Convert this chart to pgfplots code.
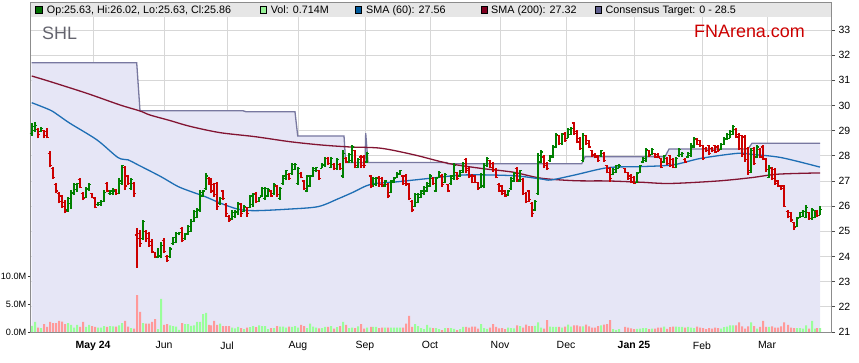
\documentclass[border=0pt]{standalone}
\usepackage{fontspec}
\setmainfont{Liberation Sans}
\usepackage{pgfplots}
\usepackage{pgfplotstable}
\pgfplotsset{compat=1.18}
\definecolor{upc}{RGB}{0,128,0}
\definecolor{dnc}{RGB}{204,0,0}
\definecolor{vup}{RGB}{153,255,153}
\definecolor{vdn}{RGB}{255,153,153}
\definecolor{smasixty}{RGB}{30,110,180}
\definecolor{smatwo}{RGB}{130,20,50}
\definecolor{tgt}{RGB}{120,120,160}
\definecolor{tgtfill}{RGB}{230,230,246}
\definecolor{bandc}{RGB}{230,230,230}
\definecolor{gridc}{RGB}{215,215,215}
\definecolor{framec}{RGB}{140,140,140}
\definecolor{fnred}{RGB}{204,0,0}
\definecolor{shlc}{RGB}{100,100,110}
\definecolor{sqA}{RGB}{0,110,0}
\definecolor{sqB}{RGB}{150,240,150}
\definecolor{sqC}{RGB}{0,90,156}
\definecolor{sqD}{RGB}{128,0,32}
\definecolor{sqE}{RGB}{95,95,143}

\pgfdeclareplotmark{otick}{\pgfpathmoveto{\pgfqpoint{-2.4bp}{0pt}}\pgfpathlineto{\pgfqpoint{0pt}{0pt}}\pgfusepathqstroke}
\pgfdeclareplotmark{ctick}{\pgfpathmoveto{\pgfqpoint{0pt}{0pt}}\pgfpathlineto{\pgfqpoint{2.4bp}{0pt}}\pgfusepathqstroke}

\pgfplotstableread{
x o h l c v
32 28.90 29.29 28.80 29.15 1.1
35 29.00 29.33 28.96 29.20 1.8
38 29.05 29.09 28.69 28.85 0.8
41 28.98 29.16 28.96 29.10 0.7
44 29.00 29.02 28.69 28.80 1.4
47 28.95 29.09 28.69 28.72 0.9
50 28.10 28.19 27.54 27.60 1.8
53 27.50 27.57 27.08 27.15 1.6
56 26.85 26.90 26.51 26.60 1.6
59 26.50 26.57 26.11 26.20 2.0
62 26.40 26.44 25.94 26.00 1.85
65 26.15 26.24 25.71 25.80 1.4
68 25.85 26.37 25.78 26.30 1.6
71 26.10 26.64 25.88 26.55 1.25
74 26.50 26.90 26.44 26.85 0.8
77 26.65 26.93 26.57 26.90 1.25
80 27.05 27.13 26.71 26.75 0.9
83 26.50 26.57 26.24 26.30 1.8
86 26.35 26.77 26.31 26.70 0.9
89 26.65 26.90 26.61 26.85 1.25
92 26.50 26.51 26.31 26.35 1.07
95 26.30 26.37 25.91 25.95 0.9
98 26.05 26.18 26.02 26.15 0.8
101 26.05 26.24 26.02 26.20 0.8
104 26.20 26.64 26.18 26.55 1.07
107 26.90 26.97 26.55 26.60 0.9
110 26.50 26.64 26.44 26.60 1.07
113 26.50 26.71 26.44 26.60 1.0
116 26.65 26.68 26.44 26.50 0.95
119 26.50 27.13 26.47 27.00 1.2
122 26.90 27.63 26.84 27.60 1.6
125 27.55 27.60 26.64 26.80 2.0
128 27.20 27.24 26.84 26.90 0.95
131 26.70 27.13 26.64 27.05 0.7
134 26.90 26.97 26.37 26.50 0.6
137 24.85 25.14 23.55 24.72 6.6
140 24.90 25.05 24.39 24.50 3.6
143 24.70 25.45 24.65 25.40 1.6
146 25.00 25.05 24.59 24.70 1.5
149 24.90 24.98 24.39 24.45 1.5
152 24.60 24.69 24.12 24.20 1.8
155 24.15 24.19 23.95 24.00 2.3
158 23.98 24.35 23.92 24.02 0.5
161 24.00 24.56 23.92 24.45 5.9
164 24.65 24.72 24.12 24.20 1.25
167 24.00 24.06 23.79 23.85 1.4
170 24.00 24.39 23.95 24.30 1.2
173 24.50 24.79 24.45 24.75 1.07
176 24.55 24.96 24.52 24.90 0.95
179 24.90 24.98 24.85 24.95 0.4
182 25.10 25.18 24.56 24.65 1.6
185 24.70 24.92 24.65 24.88 1.4
188 24.90 25.25 24.85 25.20 1.4
191 25.00 25.47 24.98 25.40 1.1
194 25.40 25.85 25.38 25.80 1.2
197 25.55 25.91 25.51 25.85 1.8
200 25.85 26.64 25.78 26.55 1.8
203 26.40 26.64 26.37 26.60 3.2
206 26.70 27.30 26.64 27.20 3.4
209 27.10 27.17 26.84 26.95 1.25
211 27.05 27.10 26.51 26.60 1.2
214 26.85 26.90 26.37 26.45 2.0
217 26.90 26.97 25.85 26.00 1.25
220 26.10 26.37 26.04 26.30 1.5
223 26.60 26.64 26.24 26.30 1.07
226 26.05 26.11 25.58 25.70 1.07
229 25.60 25.65 25.38 25.45 1.07
232 25.50 25.85 25.45 25.75 0.8
235 25.60 25.85 25.51 25.80 0.65
238 25.75 26.15 25.65 26.10 0.9
241 26.05 26.11 25.58 25.70 0.7
244 25.80 26.04 25.78 26.00 0.5
247 25.95 25.98 25.58 25.70 0.8
250 25.95 26.44 25.91 26.40 0.85
253 26.05 26.51 25.98 26.45 1.07
256 26.50 26.57 26.11 26.20 0.85
259 26.20 26.37 26.18 26.35 1.2
262 26.40 26.77 26.37 26.70 1.07
265 26.30 26.77 26.24 26.70 1.07
268 26.40 26.71 26.37 26.65 0.5
271 26.60 26.64 26.37 26.40 0.7
274 26.50 26.90 26.44 26.85 0.7
277 26.80 26.84 26.37 26.45 1.07
280 26.30 26.77 26.24 26.70 0.95
283 26.90 27.24 26.84 27.20 0.95
286 27.10 27.43 27.04 27.40 0.8
289 27.25 27.30 27.04 27.10 0.95
292 27.30 27.70 27.24 27.65 0.93
295 27.45 27.70 27.43 27.65 1.07
298 26.90 27.57 26.84 27.50 0.8
301 27.30 27.34 27.10 27.15 1.25
304 27.00 27.04 26.64 26.70 1.07
307 26.60 27.24 26.55 27.20 0.7
310 26.80 27.24 26.77 27.20 1.5
313 27.20 27.57 27.17 27.50 0.95
316 27.40 27.57 27.37 27.55 0.8
319 27.40 27.43 27.04 27.10 0.65
322 27.50 27.70 27.50 27.65 0.7
325 27.60 27.96 27.57 27.90 0.93
328 27.90 27.96 27.63 27.70 0.9
331 27.55 27.96 27.50 27.90 1.07
334 27.65 27.70 27.43 27.50 0.6
337 27.50 27.90 27.43 27.85 0.85
340 27.65 27.70 27.43 27.50 1.07
343 27.20 28.23 27.10 28.10 1.8
346 27.90 27.96 27.70 27.75 1.25
349 27.75 28.10 27.70 28.05 0.7
352 27.80 28.43 27.70 28.35 0.8
355 28.20 28.23 27.50 27.60 0.7
358 27.55 27.90 27.50 27.85 1.0
361 27.95 28.03 27.50 27.60 1.4
364 27.95 28.03 27.50 27.60 0.6
367 27.75 28.16 27.70 28.10 0.8
371 27.20 27.24 26.71 26.80 0.9
373 26.80 27.17 26.77 27.10 0.9
376 26.85 27.17 26.81 27.10 0.9
379 27.15 27.21 26.77 26.85 0.7
382 27.10 27.17 26.77 26.85 0.8
385 26.80 27.04 26.77 27.00 0.8
388 26.85 26.90 26.31 26.40 0.8
391 26.55 27.04 26.51 27.00 0.8
394 26.95 27.17 26.90 27.10 0.8
397 27.15 27.37 27.10 27.30 0.8
400 27.25 27.43 27.24 27.40 0.8
403 27.20 27.24 26.84 26.90 0.8
406 27.20 27.27 26.81 26.90 1.5
409 26.85 26.90 26.24 26.30 2.9
412 26.20 26.24 25.75 25.85 0.9
415 26.00 26.51 25.98 26.45 1.4
418 26.15 26.51 26.11 26.45 1.07
421 26.35 26.64 26.31 26.60 0.7
424 26.50 26.81 26.44 26.75 0.5
427 26.60 26.97 26.57 26.90 1.25
430 26.80 27.27 26.77 27.20 0.8
433 27.10 27.17 26.84 26.90 0.7
436 26.60 27.17 26.57 27.10 0.7
439 27.15 27.40 27.10 27.35 0.5
442 27.20 27.27 26.77 26.85 0.35
445 26.95 27.30 26.90 27.25 0.7
448 26.85 26.87 26.55 26.60 0.7
451 26.90 27.24 26.84 27.20 0.7
454 27.10 27.70 27.04 27.60 0.55
457 27.35 27.37 27.04 27.10 0.35
460 27.20 27.43 27.17 27.40 0.5
463 27.35 27.77 27.30 27.70 0.9
466 27.85 27.90 27.30 27.40 0.9
469 27.50 27.57 27.10 27.20 0.8
472 27.20 27.27 26.90 26.95 0.95
475 27.20 27.24 26.90 26.95 0.95
478 26.95 26.97 26.64 26.70 0.6
481 26.75 27.30 26.71 27.25 1.4
484 26.80 27.70 26.71 27.60 0.7
487 27.60 27.96 27.57 27.90 0.55
490 27.80 27.83 27.50 27.55 0.8
493 27.70 27.77 27.37 27.45 1.4
496 27.45 27.50 27.10 27.15 0.9
499 26.85 26.90 26.57 26.60 0.65
502 26.80 26.84 26.44 26.50 0.7
505 26.60 26.64 26.37 26.40 0.5
508 26.45 26.64 26.41 26.60 0.8
511 26.70 27.17 26.64 27.10 0.7
514 27.00 27.37 26.97 27.30 0.65
517 27.50 27.57 26.97 27.05 1.2
520 27.00 27.43 26.97 27.40 1.07
523 27.05 27.10 26.44 26.50 0.8
526 26.50 26.57 26.11 26.20 1.3
529 26.60 26.64 26.18 26.25 1.07
532 26.10 26.18 25.58 25.70 1.07
535 25.85 26.24 25.81 26.20 1.1
538 26.50 28.10 26.44 28.00 1.7
541 27.75 28.23 27.70 28.15 0.8
544 27.95 28.03 27.50 27.60 0.6
547 27.70 27.77 27.43 27.50 2.1
550 27.80 28.03 27.77 28.00 0.95
553 27.95 28.43 27.90 28.35 0.9
556 28.35 28.89 28.30 28.85 0.9
559 28.80 28.83 28.43 28.50 0.9
562 28.50 28.89 28.43 28.85 0.8
565 28.90 28.96 28.56 28.60 0.95
568 28.70 29.09 28.69 29.05 1.3
571 28.85 29.16 28.83 29.10 0.95
574 29.30 29.36 28.83 28.90 1.2
577 28.95 29.02 28.49 28.55 1.2
580 28.70 28.76 28.23 28.30 1.0
583 27.80 28.89 27.77 28.80 1.0
586 28.80 28.83 28.43 28.50 1.3
589 28.60 28.63 28.30 28.35 1.0
592 28.20 28.23 27.96 28.00 0.8
595 28.05 28.10 27.90 27.95 0.8
598 28.00 28.03 27.77 27.80 1.07
601 28.00 28.23 27.96 28.20 1.2
604 28.10 28.16 27.77 27.80 1.3
607 27.60 27.63 27.30 27.35 1.4
610 27.50 27.57 26.97 27.10 2.1
613 27.25 27.50 27.24 27.45 0.5
616 27.35 27.63 27.30 27.60 0.35
619 27.50 27.66 27.50 27.60 0.5
625 27.50 27.53 27.30 27.35 0.9
628 27.35 27.37 27.04 27.10 0.8
631 27.20 27.27 26.90 26.95 0.65
634 27.15 27.21 26.87 26.90 0.5
637 26.95 27.37 26.90 27.30 0.55
640 27.35 27.63 27.30 27.60 0.6
643 27.75 27.96 27.70 27.90 0.7
646 27.80 28.30 27.77 28.25 0.7
649 28.20 28.23 27.96 28.00 0.5
652 28.05 28.30 28.03 28.25 0.6
655 28.10 28.13 27.92 27.95 0.6
658 28.05 28.10 27.90 27.95 0.8
661 27.90 27.92 27.50 27.55 0.8
664 27.75 28.03 27.70 28.00 0.95
667 27.90 27.96 27.63 27.70 0.55
670 28.00 28.03 27.57 27.60 0.85
673 27.85 27.90 27.50 27.55 0.95
676 27.55 27.96 27.50 27.90 0.95
679 28.00 28.30 27.96 28.25 0.9
682 28.05 28.16 27.96 28.10 0.9
685 27.85 27.90 27.70 27.75 0.8
688 27.95 28.16 27.90 28.10 0.9
691 28.00 28.49 27.96 28.40 0.8
694 28.35 28.76 28.30 28.70 0.7
697 28.65 28.69 28.43 28.45 0.95
700 28.60 28.63 28.36 28.40 0.8
703 28.40 28.43 27.83 27.90 0.7
706 28.30 28.36 28.16 28.20 0.5
709 28.40 28.43 28.03 28.10 0.7
712 28.30 28.36 28.16 28.20 0.6
715 28.40 28.43 28.10 28.15 0.8
718 28.35 28.43 28.16 28.20 0.7
721 28.25 28.49 28.23 28.45 0.6
724 28.45 28.76 28.43 28.70 0.85
727 28.65 28.89 28.63 28.85 0.95
730 28.70 29.02 28.69 28.95 1.2
733 28.85 29.22 28.83 29.15 1.2
736 29.05 29.09 28.69 28.75 1.2
739 28.85 28.89 28.23 28.30 1.7
742 28.80 28.83 27.96 28.05 1.0
745 28.75 28.83 27.77 27.85 0.6
748 28.30 28.36 27.24 27.35 1.0
751 27.40 28.30 27.30 28.20 1.7
754 28.30 28.36 27.63 27.70 1.07
757 27.95 28.43 27.90 28.35 0.6
760 28.25 28.30 27.90 27.95 0.9
763 28.35 28.43 27.83 27.90 2.0
766 27.85 27.90 27.37 27.45 0.9
769 27.15 27.63 27.10 27.55 0.9
772 27.50 27.57 27.04 27.10 1.0
775 27.45 27.50 26.84 26.90 0.8
778 27.00 27.04 26.77 26.80 0.8
781 26.80 26.84 26.64 26.70 1.0
784 26.80 26.84 25.98 26.00 1.7
788 25.80 25.85 25.51 25.60 1.25
791 25.75 25.78 25.38 25.45 0.8
794 25.35 25.38 25.05 25.15 0.7
797 25.20 25.58 25.18 25.50 0.7
800 25.55 25.78 25.51 25.75 0.7
803 25.60 25.85 25.58 25.80 0.6
806 25.55 26.04 25.51 25.95 1.2
809 25.75 25.78 25.45 25.50 0.6
812 25.50 25.91 25.45 25.85 2.0
815 25.55 25.85 25.51 25.80 0.6
817 25.80 25.85 25.58 25.63 0.7
820 25.63 26.02 25.63 25.86 0.714
}\ohlc

\begin{document}
\begin{tikzpicture}
\path[use as bounding box] (0bp,0bp) rectangle (859bp,363bp);

% ---------------- price axis ----------------
\begin{axis}[
  at={(30bp,31bp)}, anchor=south west, scale only axis,
  width=801bp, height=329bp,
  xmin=30, xmax=831, ymin=21, ymax=34.07,
  axis line style={draw=framec, line width=1bp},
  grid=major, major grid style={draw=gridc, line width=0.8bp},
  xtick={93,164,227,298,365,430,500,566,634,702,767},
  xticklabels={\textbf{May 24},Jun,Jul,Aug,Sep,Oct,Nov,Dec,\textbf{Jan 25},Feb,Mar},
  xtick style={draw=none},
  xticklabel style={font=\fontsize{10.5}{12}\selectfont, yshift=-2bp},
  ytick={21,22,...,33},
  ytick pos=right, yticklabel pos=right,
  tick align=outside, major tick length=4bp,
  ytick style={draw=black!70, line width=0.8bp},
  yticklabel style={font=\fontsize{10.5}{12}\selectfont},
  /pgf/number format/assume math mode=true,
  clip=true,
]
% consensus target area
\addplot[fill=tgtfill, draw=none] coordinates {
 (31.7,31.70) (136.7,31.70) (140,29.79) (243,29.79) (246,29.75) (295,29.75)
 (297.7,28.79) (344,28.79) (345.7,27.73) (365,27.73) (365.7,28.9) (368,27.73)
 (446.7,27.73) (448,27.68) (581.7,27.68) (585,27.96) (665,27.96) (669,28.27)
 (748,28.27) (752,28.5) (820,28.5)} \closedcycle;
\addplot[draw=tgt, line width=1.3bp] coordinates {
 (31.7,31.70) (136.7,31.70) (140,29.79) (243,29.79) (246,29.75) (295,29.75)
 (297.7,28.79) (344,28.79) (345.7,27.73) (365,27.73) (365.7,28.9) (368,27.73)
 (446.7,27.73) (448,27.68) (581.7,27.68) (585,27.96) (665,27.96) (669,28.27)
 (748,28.27) (752,28.5) (820,28.5)};
% SMA 200
\addplot[draw=smatwo, line width=1.3bp, smooth] coordinates {
 (31.7,31.17) (50,30.95) (87,30.48) (120,30.02) (140,29.78) (150,29.62)
 (170,29.4) (190,29.17) (220,28.92) (255,28.76) (290,28.56) (321,28.43)
 (350,28.35) (381,28.3) (415,28.03) (448,27.7) (481,27.5) (513,27.35)
 (541,27.11) (575,27.01) (608,27.0) (641,26.95) (670,26.9) (718,27.0)
 (751,27.13) (778,27.27) (820,27.32)};
% SMA 60
\addplot[draw=smasixty, line width=1.3bp, smooth] coordinates {
 (31.7,30.11) (50,29.82) (58,29.62) (70,29.29) (97,28.63) (118,27.93)
 (128,27.84) (138,27.64) (161,27.17) (178,26.78) (193,26.55) (205,26.38)
 (221,26.11) (238,25.88) (255,25.82) (288,25.88) (318,25.98) (338,26.29)
 (353,26.55) (371,26.87) (398,26.97) (431,27.11) (465,27.24) (513,27.21)
 (541,27.08) (551,27.04) (575,27.24) (608,27.53) (641,27.57) (673,27.64)
 (701,27.9) (738,28.1) (751,28.06) (781,27.93) (820,27.55)};
% OHLC up bars
\addplot[draw=none, mark=none, restrict expr to domain={\thisrow{c}-\thisrow{o}}{0:1000},
  error bars/.cd, y dir=plus, y explicit, error mark=none,
  error bar style={draw=upc, line width=1.2bp}]
  table[x=x, y=l, y error expr=\thisrow{h}-\thisrow{l}] {\ohlc};
\addplot[only marks, mark=otick, color=upc, mark options={line width=1.2bp},
  restrict expr to domain={\thisrow{c}-\thisrow{o}}{0:1000}] table[x=x, y=o] {\ohlc};
\addplot[only marks, mark=ctick, color=upc, mark options={line width=1.2bp},
  restrict expr to domain={\thisrow{c}-\thisrow{o}}{0:1000}] table[x=x, y=c] {\ohlc};
% OHLC down bars
\addplot[draw=none, mark=none, restrict expr to domain={\thisrow{c}-\thisrow{o}}{-1000:-0.0001},
  error bars/.cd, y dir=plus, y explicit, error mark=none,
  error bar style={draw=dnc, line width=1.2bp}]
  table[x=x, y=l, y error expr=\thisrow{h}-\thisrow{l}] {\ohlc};
\addplot[only marks, mark=otick, color=dnc, mark options={line width=1.2bp},
  restrict expr to domain={\thisrow{c}-\thisrow{o}}{-1000:-0.0001}] table[x=x, y=o] {\ohlc};
\addplot[only marks, mark=ctick, color=dnc, mark options={line width=1.2bp},
  restrict expr to domain={\thisrow{c}-\thisrow{o}}{-1000:-0.0001}] table[x=x, y=c] {\ohlc};
\end{axis}

% ---------------- volume axis ----------------
\begin{axis}[
  at={(30bp,31bp)}, anchor=south west, scale only axis,
  width=801bp, height=329bp,
  xmin=30, xmax=831, ymin=0, ymax=58.75,
  axis line style={draw=none},
  xtick=\empty,
  ytick={0,5,10}, yticklabels={0.0M,5.0M,10.0M},
  ytick pos=left, yticklabel pos=left,
  tick align=outside, major tick length=2bp,
  ytick style={draw=black!80, line width=0.8bp},
  yticklabel style={font=\fontsize{9.2}{11}\selectfont, inner sep=0.5bp, xshift=-1bp},
  ybar, bar width=2bp, bar shift=0pt,
  clip=true,
]
\addplot[fill=vup, draw=none, restrict expr to domain={\thisrow{c}-\thisrow{o}}{0:1000}]
  table[x=x, y=v] {\ohlc};
\addplot[fill=vdn, draw=none, restrict expr to domain={\thisrow{c}-\thisrow{o}}{-1000:-0.0001}]
  table[x=x, y=v] {\ohlc};
\end{axis}

% ---------------- header band & labels ----------------
\fill[bandc] (30.5bp,346bp) rectangle (830.5bp,359.5bp);
\begin{scope}[every node/.style={inner sep=0pt, anchor=base west, font=\fontsize{10.8}{12}\selectfont}]
\filldraw[fill=sqA, draw=black, line width=0.6bp] (35.5bp,350bp) rectangle ++(6.5bp,6.5bp);
\node at (46.7bp,349.8bp) {Op:25.63, Hi:26.02, Lo:25.63, Cl:25.86};
\filldraw[fill=sqB, draw=black, line width=0.6bp] (260bp,350bp) rectangle ++(6.5bp,6.5bp);
\node at (270.7bp,349.8bp) {Vol: 0.714M};
\filldraw[fill=sqC, draw=black, line width=0.6bp] (355bp,350bp) rectangle ++(6.5bp,6.5bp);
\node at (366bp,349.8bp) {SMA (60): 27.56};
\filldraw[fill=sqD, draw=black, line width=0.6bp] (481bp,350bp) rectangle ++(6.5bp,6.5bp);
\node at (491bp,349.8bp) {SMA (200): 27.32};
\filldraw[fill=sqE, draw=black, line width=0.6bp] (595bp,350bp) rectangle ++(6.5bp,6.5bp);
\node at (605.5bp,349.8bp) {Consensus Target: 0 - 28.5};
\end{scope}
\node[inner sep=0pt, anchor=base west, font=\fontsize{18}{20}\selectfont, text=shlc] at (42bp,323.7bp) {SHL};
\node[inner sep=0pt, anchor=base west, font=\fontsize{18}{20}\selectfont, text=fnred] at (694bp,325bp) {FNArena.com};
\end{tikzpicture}
\end{document}
